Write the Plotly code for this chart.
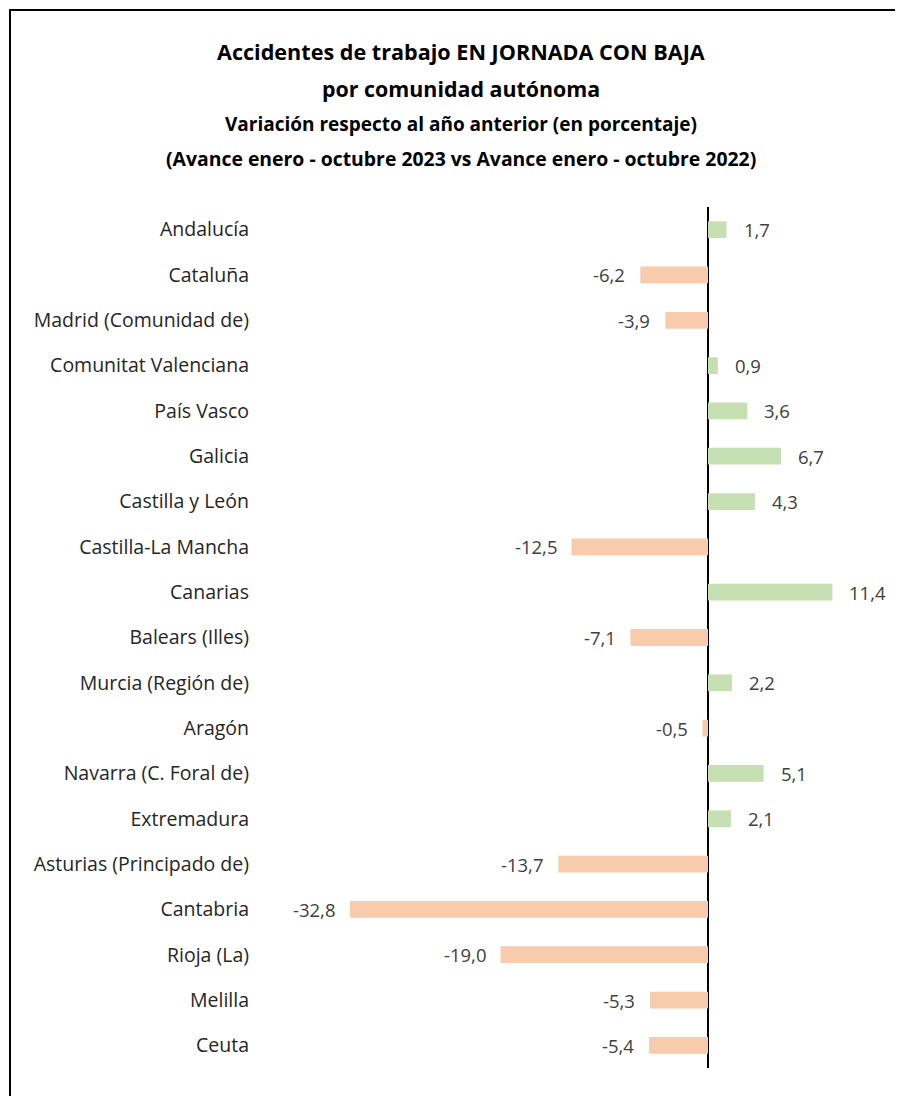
import plotly.graph_objects as go

categories = ["Andalucía", "Cataluña", "Madrid (Comunidad de)", "Comunitat Valenciana",
              "País Vasco", "Galicia", "Castilla y León", "Castilla-La Mancha", "Canarias",
              "Balears (Illes)", "Murcia (Región de)", "Aragón", "Navarra (C. Foral de)",
              "Extremadura", "Asturias (Principado de)", "Cantabria", "Rioja (La)",
              "Melilla", "Ceuta"]
values = [1.7, -6.2, -3.9, 0.9, 3.6, 6.7, 4.3, -12.5, 11.4, -7.1, 2.2, -0.5, 5.1, 2.1,
          -13.7, -32.8, -19.0, -5.3, -5.4]

title_lines = ["Accidentes de trabajo EN JORNADA CON BAJA",
               "por comunidad autónoma",
               "Variación respecto al año anterior (en porcentaje)",
               "(Avance enero - octubre 2023 vs Avance enero - octubre 2022)"]

GREEN = "#C6E0B4"
ORANGE = "#F7CBAC"
FONT = "Open Sans"

colors = [GREEN if v >= 0 else ORANGE for v in values]

fig = go.Figure(go.Bar(
    x=values, y=categories, orientation="h",
    marker=dict(color=colors, line=dict(width=0)),
    width=0.37, hoverinfo="skip"))

annotations = []
for c, v in zip(categories, values):
    txt = f"{v:.1f}".replace(".", ",")
    annotations.append(dict(
        x=v, y=c, xref="x", yref="y", text=txt, showarrow=False,
        xanchor="left" if v >= 0 else "right",
        xshift=15 if v >= 0 else -13,
        font=dict(family=FONT, size=18.5, color="#404040")))

# page offset (body margin) compensation
OFF = 8
ZERO = 708 - OFF
PL, PR, PT, PB = 260 - OFF, 890 - OFF, 207 - OFF, 1068 - OFF
def px_to_paper_x(px):
    return (px - OFF - PL) / (PR - PL)
def px_to_paper_y(py):
    return (PB - (py - OFF)) / (PB - PT)

title_specs = [(title_lines[0], 52, 21.6), (title_lines[1], 88, 21.4),
               (title_lines[2], 124, 19), (title_lines[3], 158, 19.4)]
for t, ypx, sz in title_specs:
    annotations.append(dict(
        x=px_to_paper_x(461), y=px_to_paper_y(ypx), xref="paper", yref="paper",
        text=f"<b>{t}</b>", showarrow=False, xanchor="center", yanchor="middle",
        font=dict(family=FONT, size=sz, color="#000000")))

bx = px_to_paper_x(10)
by = px_to_paper_y(10)
shapes = [dict(type="path", xref="paper", yref="paper",
               path=f"M {bx} {px_to_paper_y(1130)} L {bx} {by} L {px_to_paper_x(930)} {by}",
               line=dict(color="#000000", width=2))]

SCALE = 10.915
xmin = (PL - ZERO) / SCALE
xmax = (PR - ZERO) / SCALE

fig.update_layout(
    width=903, height=1096,
    margin=dict(l=PL, r=903 - PR, t=PT, b=1096 - PB),
    paper_bgcolor="white", plot_bgcolor="white",
    showlegend=False,
    annotations=annotations, shapes=shapes,
    xaxis=dict(range=[xmin, xmax], showgrid=False, showticklabels=False, ticks="",
               zeroline=True, zerolinecolor="#000000", zerolinewidth=2, showline=False,
               fixedrange=True),
    yaxis=dict(categoryorder="array", categoryarray=categories, autorange="reversed",
               showgrid=False, showline=False, ticks="", ticklabelstandoff=10,
               tickfont=dict(family=FONT, size=19.5, color="#262626"), fixedrange=True),
)

fig.write_html("out.html")
